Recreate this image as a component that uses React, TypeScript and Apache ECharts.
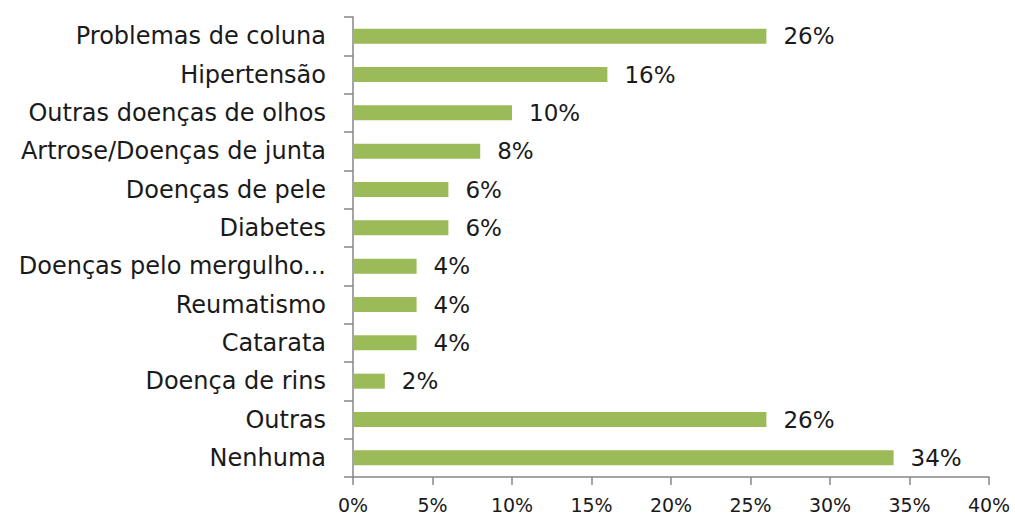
import React, { useEffect, useRef } from "react";
import * as echarts from "echarts";

const categories = [
  "Problemas de coluna",
  "Hipertensão",
  "Outras doenças de olhos",
  "Artrose/Doenças de junta",
  "Doenças de pele",
  "Diabetes",
  "Doenças pelo mergulho...",
  "Reumatismo",
  "Catarata",
  "Doença de rins",
  "Outras",
  "Nenhuma",
];
const values = [26, 16, 10, 8, 6, 6, 4, 4, 4, 2, 26, 34];
const xTicks = { min: 0, max: 40, interval: 5 };

const FONT = "'DejaVu Sans', sans-serif";

export default function App() {
  const ref = useRef<HTMLDivElement>(null);
  useEffect(() => {
    if (!ref.current) return;
    const chart = echarts.init(ref.current, null, { renderer: "svg" });
    chart.setOption({
      animation: false,
      grid: { left: 353, right: 26, top: 17, bottom: 37, containLabel: false },
      xAxis: {
        type: "value",
        min: xTicks.min,
        max: xTicks.max,
        interval: xTicks.interval,
        axisLine: { show: true, lineStyle: { color: "#868686", width: 1.5 } },
        axisTick: { show: true, length: 8, lineStyle: { color: "#868686", width: 1.5 } },
        splitLine: { show: false },
        axisLabel: {
          formatter: "{value}%",
          color: "#1a1a1a",
          fontFamily: FONT,
          fontSize: 19,
          margin: 18,
        },
      },
      yAxis: {
        type: "category",
        data: categories,
        inverse: true,
        axisLine: { show: true, lineStyle: { color: "#868686", width: 1.5 } },
        axisTick: { show: true, length: 9, lineStyle: { color: "#868686", width: 1.5 } },
        axisLabel: {
          color: "#1a1a1a",
          fontFamily: FONT,
          fontSize: 24,
          margin: 27,
        },
      },
      series: [
        {
          type: "bar",
          data: values,
          barWidth: 15,
          itemStyle: { color: "#9BBB59" },
          label: {
            show: true,
            position: "right",
            distance: 17,
            formatter: "{c}%",
            color: "#1a1a1a",
            fontFamily: FONT,
            fontSize: 23,
          },
        },
      ],
    });
    return () => chart.dispose();
  }, []);
  return (
    <div
      ref={ref}
      style={{ position: "absolute", left: 0, top: 0, width: 1015, height: 514 }}
    />
  );
}
